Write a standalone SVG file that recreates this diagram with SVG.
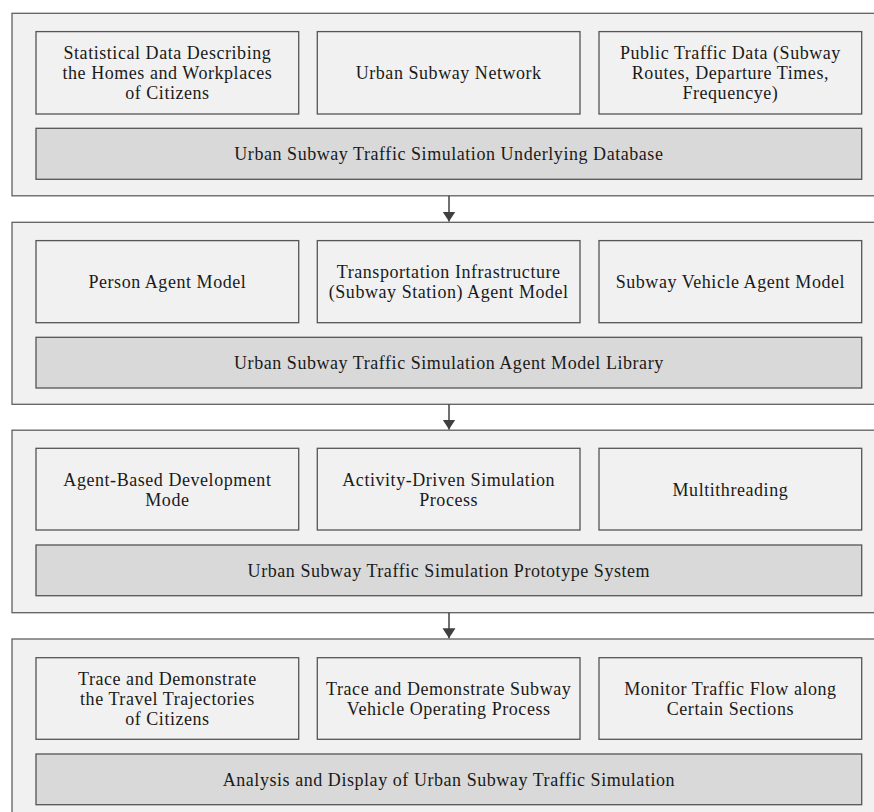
<svg xmlns="http://www.w3.org/2000/svg" width="874" height="812" viewBox="0 0 874 812">
  <style>
    .panel { fill: #f1f1f1; stroke: #606060; stroke-width: 1.3; }
    .box { fill: #f1f1f1; stroke: #555555; stroke-width: 1.3; }
    .bar { fill: #d9d9d9; stroke: #555555; stroke-width: 1.3; }
    text { font-family: "Liberation Serif", "Times New Roman", "DejaVu Serif", serif; font-size: 18px; letter-spacing: 0.55px; fill: #1a1a1a; text-anchor: middle; }
    .link { stroke: #404040; stroke-width: 1.5; fill: none; }
  </style>
  <defs>
    <marker id="arrow" markerUnits="userSpaceOnUse" markerWidth="14" markerHeight="14" refX="10" refY="6.5" orient="auto">
      <polygon points="0,0 10,6.5 0,13" fill="#404040"/>
    </marker>
  </defs>
  <rect width="874" height="812" fill="#ffffff"/>

  <!-- Layer 1: underlying database -->
  <g id="layer-database">
    <rect class="panel" x="12" y="13.3" width="870" height="182.5"/>
    <g id="db-citizens">
      <rect class="box" x="36" y="31.6" width="262.7" height="82.4"/>
      <text x="167.4" y="59.1">Statistical Data Describing</text>
      <text x="167.4" y="79.1">the Homes and Workplaces</text>
      <text x="167.4" y="99.1">of Citizens</text>
    </g>
    <g id="db-network">
      <rect class="box" x="317.3" y="31.6" width="262.7" height="82.4"/>
      <text x="448.7" y="79.1">Urban Subway Network</text>
    </g>
    <g id="db-public">
      <rect class="box" x="599" y="31.6" width="262.7" height="82.4"/>
      <text x="730.4" y="59.1">Public Traffic Data (Subway</text>
      <text x="730.4" y="79.1">Routes, Departure Times,</text>
      <text x="730.4" y="99.1">Frequencye)</text>
    </g>
    <g id="db-bar">
      <rect class="bar" x="36" y="128.3" width="825.7" height="51"/>
      <text x="448.9" y="160.4">Urban Subway Traffic Simulation Underlying Database</text>
    </g>
  </g>

  <!-- Layer 2: agent model library -->
  <g id="layer-agents">
    <rect class="panel" x="12" y="222.3" width="870" height="182"/>
    <g id="agent-person">
      <rect class="box" x="36" y="240.6" width="262.7" height="82.1"/>
      <text x="167.4" y="288.2">Person Agent Model</text>
    </g>
    <g id="agent-station">
      <rect class="box" x="317.3" y="240.6" width="262.7" height="82.1"/>
      <text x="448.7" y="278.2">Transportation Infrastructure</text>
      <text x="448.7" y="298.2">(Subway Station) Agent Model</text>
    </g>
    <g id="agent-vehicle">
      <rect class="box" x="599" y="240.6" width="262.7" height="82.1"/>
      <text x="730.4" y="288.2">Subway Vehicle Agent Model</text>
    </g>
    <g id="agent-bar">
      <rect class="bar" x="36" y="337.3" width="825.7" height="50.7"/>
      <text x="448.9" y="369.2">Urban Subway Traffic Simulation Agent Model Library</text>
    </g>
  </g>

  <!-- Layer 3: prototype system -->
  <g id="layer-prototype">
    <rect class="panel" x="12" y="430.2" width="870" height="182.5"/>
    <g id="proto-agent-based">
      <rect class="box" x="36" y="448.3" width="262.7" height="81.7"/>
      <text x="167.4" y="485.5">Agent-Based Development</text>
      <text x="167.4" y="505.5">Mode</text>
    </g>
    <g id="proto-activity">
      <rect class="box" x="317.3" y="448.3" width="262.7" height="81.7"/>
      <text x="448.7" y="485.5">Activity-Driven Simulation</text>
      <text x="448.7" y="505.5">Process</text>
    </g>
    <g id="proto-threads">
      <rect class="box" x="599" y="448.3" width="262.7" height="81.7"/>
      <text x="730.4" y="495.5">Multithreading</text>
    </g>
    <g id="proto-bar">
      <rect class="bar" x="36" y="545" width="825.7" height="50.7"/>
      <text x="448.9" y="576.9">Urban Subway Traffic Simulation Prototype System</text>
    </g>
  </g>

  <!-- Layer 4: analysis and display -->
  <g id="layer-analysis">
    <rect class="panel" x="12" y="639" width="870" height="182.5"/>
    <g id="an-trajectories">
      <rect class="box" x="36" y="657.7" width="262.7" height="81.6"/>
      <text x="167.4" y="684.8">Trace and Demonstrate</text>
      <text x="167.4" y="704.8">the Travel Trajectories</text>
      <text x="167.4" y="724.8">of Citizens</text>
    </g>
    <g id="an-vehicles">
      <rect class="box" x="317.3" y="657.7" width="262.7" height="81.6"/>
      <text x="448.7" y="694.8">Trace and Demonstrate Subway</text>
      <text x="448.7" y="714.8">Vehicle Operating Process</text>
    </g>
    <g id="an-flow">
      <rect class="box" x="599" y="657.7" width="262.7" height="81.6"/>
      <text x="730.4" y="694.8">Monitor Traffic Flow along</text>
      <text x="730.4" y="714.8">Certain Sections</text>
    </g>
    <g id="an-bar">
      <rect class="bar" x="36" y="754" width="825.7" height="50.7"/>
      <text x="448.9" y="785.9">Analysis and Display of Urban Subway Traffic Simulation</text>
    </g>
  </g>

  <!-- Flow between layers -->
  <g id="connectors">
    <path class="link" d="M449,195.8 V221.6" marker-end="url(#arrow)"/>
    <path class="link" d="M449,404.3 V429.5" marker-end="url(#arrow)"/>
    <path class="link" d="M449,612.7 V638.3" marker-end="url(#arrow)"/>
  </g>
</svg>
